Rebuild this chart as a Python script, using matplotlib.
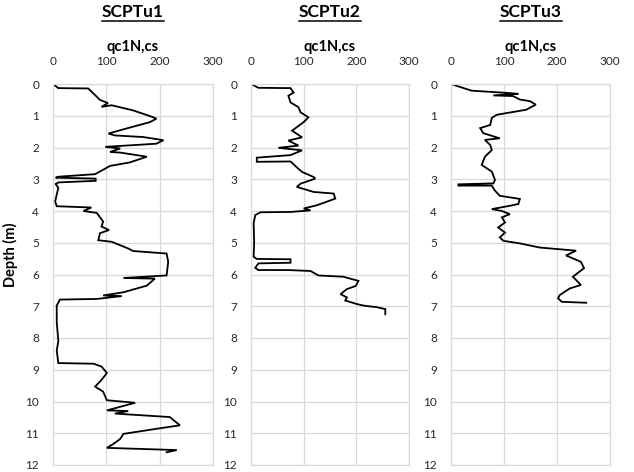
import matplotlib
matplotlib.use("Agg")
import matplotlib.pyplot as plt
from matplotlib.lines import Line2D

plt.rcParams['font.family'] = ['Lato', 'DejaVu Sans']

titles = ["SCPTu1", "SCPTu2", "SCPTu3"]
x_label = "qc1N,cs"
y_label = "Depth (m)"
x_ticks = [0, 100, 200, 300]
y_ticks = list(range(0, 13))

# SCPTu1 profile: (qc1N,cs, depth)
q1 = [0, 10, 66, 82, 88, 103, 91, 110, 150, 185, 194, 182, 138, 104, 116, 169, 207, 194, 98,
      126, 107, 126, 176, 144, 107, 79, 10, 5, 80, 80, 10, 5, 10, 4, 7, 72, 57, 82, 94, 91,
      105, 88, 85, 110, 141, 150, 213, 216, 213, 132, 191, 176, 132, 94, 129, 82, 13, 7, 7,
      10, 7, 10, 76, 91, 101, 91, 79, 94, 101, 154, 101, 141, 116, 219, 238, 194, 132, 126,
      113, 101, 232, 213]
d1 = [0, 0.13, 0.14, 0.4, 0.5, 0.6, 0.72, 0.67, 0.83, 1.03, 1.09, 1.2, 1.4, 1.56, 1.62, 1.67,
      1.77, 1.88, 1.98, 2.03, 2.14, 2.16, 2.29, 2.47, 2.58, 2.84, 2.92, 2.95, 2.98, 3.05, 3.1,
      3.15, 3.27, 3.7, 3.85, 3.89, 4.0, 4.06, 4.33, 4.49, 4.6, 4.7, 4.92, 4.97, 5.18, 5.26, 5.34,
      5.6, 6.03, 6.11, 6.13, 6.35, 6.56, 6.66, 6.68, 6.77, 6.79, 6.98, 7.5, 8.1, 8.4, 8.79,
      8.81, 8.9, 9.1, 9.32, 9.53, 9.69, 9.96, 10.04, 10.28, 10.3, 10.38, 10.49, 10.75, 10.86,
      11.02, 11.18, 11.34, 11.46, 11.53, 11.6]

# SCPTu2 profile
q2 = [0, 14, 75, 81, 71, 75, 90, 94, 109, 100, 87, 78, 97, 71, 90, 52, 97, 75, 11, 11, 75,
      90, 97, 119, 122, 94, 87, 119, 157, 160, 125, 100, 113, 75, 18, 8, 5, 6, 5, 11, 75, 75,
      14, 8, 14, 71, 113, 128, 175, 204, 199, 182, 170, 182, 179, 201, 214, 239, 255, 255]
d2 = [0, 0.12, 0.13, 0.27, 0.37, 0.58, 0.73, 0.89, 1.05, 1.2, 1.36, 1.47, 1.68, 1.78, 1.94,
      2.01, 2.09, 2.24, 2.32, 2.45, 2.44, 2.67, 2.77, 2.93, 2.98, 3.14, 3.24, 3.4, 3.45, 3.61,
      3.82, 3.92, 3.98, 4.03, 4.04, 4.13, 4.39, 4.97, 5.44, 5.51, 5.52, 5.63, 5.65, 5.79, 5.86,
      5.86, 5.89, 6.03, 6.07, 6.2, 6.36, 6.46, 6.62, 6.72, 6.82, 6.93, 6.98, 7.03, 7.09, 7.25]

# SCPTu3 profile
q3 = [0, 24, 39, 105, 127, 80, 117, 130, 149, 160, 142, 86, 77, 74, 55, 61, 92, 64, 74, 77,
      64, 58, 77, 83, 80, 14, 14, 77, 83, 92, 130, 127, 113, 77, 96, 111, 96, 102, 89, 102, 92,
      99, 130, 167, 236, 217, 245, 251, 230, 245, 224, 205, 202, 209, 255]
d3 = [0, 0.13, 0.21, 0.28, 0.31, 0.36, 0.38, 0.49, 0.54, 0.65, 0.81, 0.97, 1.07, 1.29, 1.39,
      1.55, 1.71, 1.76, 1.92, 2.08, 2.29, 2.55, 2.76, 3.02, 3.13, 3.16, 3.2, 3.2, 3.36, 3.52,
      3.62, 3.78, 3.83, 3.94, 4.0, 4.1, 4.2, 4.36, 4.52, 4.68, 4.83, 4.94, 5.02, 5.15, 5.25,
      5.4, 5.6, 5.8, 6.07, 6.33, 6.44, 6.65, 6.75, 6.86, 6.89]

series = [(q1, d1), (q2, d2), (q3, d3)]

W, H = 634, 472
fig = plt.figure(figsize=(W / 100, H / 100), dpi=100)

panels = [(53, 213), (251, 409), (451, 610)]
top_px, bot_px = 84, 465
grid_col = '#d9d9d9'

axes = []
for (l, r), (q, d), t in zip(panels, series, titles):
    ax = fig.add_axes([l / W, 1 - bot_px / H, (r - l) / W, (bot_px - top_px) / H])
    ax.plot(q, d, color='black', lw=1.3, solid_joinstyle='miter')
    ax.set_xlim(0, 300)
    ax.set_ylim(12, 0)
    ax.set_xticks(x_ticks)
    ax.set_yticks(y_ticks)
    ax.xaxis.tick_top()
    ax.tick_params(axis='both', length=0, labelsize=8.5, colors='#262626')
    ax.tick_params(axis='x', pad=12)
    ax.tick_params(axis='y', pad=10)
    ax.grid(True, color=grid_col, lw=0.9)
    ax.set_axisbelow(True)
    for s in ax.spines.values():
        s.set_color(grid_col)
        s.set_linewidth(0.9)
    cx = (l + r) / 2 / W
    fig.text(cx, 1 - 47 / H, x_label, ha='center', va='center', fontsize=10.5,
             fontweight='bold')
    tt = fig.text(cx, 1 - 12 / H, t, ha='center', va='center', fontsize=12.5,
                  fontweight='bold')
    axes.append(tt)

fig.text(10 / W, 1 - 255 / H, y_label, rotation=90, ha='center', va='center',
         fontsize=10.5, fontweight='bold')

fig.canvas.draw()
renderer = fig.canvas.get_renderer()
for tt in axes:
    bb = tt.get_window_extent(renderer)
    y = (bb.y0 - 0.5) / H
    fig.add_artist(Line2D([bb.x0 / W, bb.x1 / W], [y, y], color='black', lw=1.1,
                          transform=fig.transFigure))

fig.savefig("out.png", dpi=100)
